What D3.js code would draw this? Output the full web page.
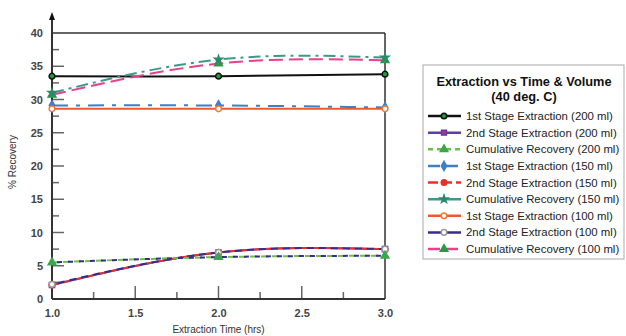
<!DOCTYPE html>
<html>
<head>
<meta charset="utf-8">
<script src="https://cdn.jsdelivr.net/npm/d3@7"></script>
<style>
  body { margin: 0; background: #fff; }
  text { font-family: "Liberation Sans", Arial, sans-serif; }
</style>
</head>
<body>
<svg width="626" height="336"></svg>
<script>
const svg = d3.select("svg");

const hours = [1.0, 2.0, 3.0];
const xTicks = [1.0, 1.5, 2.0, 2.5, 3.0];
const xMinor = [1.25, 1.75, 2.25, 2.75];
const yTicks = [0, 5, 10, 15, 20, 25, 30, 35, 40];
const yMinor = [2.5, 7.5, 12.5, 17.5, 22.5, 27.5, 32.5, 37.5];

const first200 = [33.5, 33.5, 33.8];
const second200 = [2.1, 7.0, 7.5];
const cum200 = [5.5, 6.3, 6.5];
const first150 = [29.1, 29.1, 28.8];
const second150 = [2.1, 7.0, 7.5];
const cum150 = [31.0, 36.0, 36.3];
const first100 = [28.6, 28.6, 28.6];
const second100 = [2.2, 7.0, 7.5];
const cum100 = [30.7, 35.4, 35.9];

const seriesNames = [
  "1st Stage Extraction (200 ml)",
  "2nd Stage Extraction (200 ml)",
  "Cumulative Recovery (200 ml)",
  "1st Stage Extraction (150 ml)",
  "2nd Stage Extraction (150 ml)",
  "Cumulative Recovery (150 ml)",
  "1st Stage Extraction (100 ml)",
  "2nd Stage Extraction (100 ml)",
  "Cumulative Recovery (100 ml)"
];
const seriesValues = [first200, second200, cum200, first150, second150, cum150, first100, second100, cum100];

// styles for each series (line colour, dash, marker)
const styles = [
  { color: "#111", dash: null, sym: d3.symbolCircle, mfill: "#1f9a3c", mstroke: "#111" },
  { color: "#5a3fa8", dash: null, sym: d3.symbolSquare, mfill: "#c0306a", mstroke: "#5a3fa8" },
  { color: "#6cc04a", dash: "7,4", sym: d3.symbolTriangle, mfill: "#3aa84a", mstroke: "#3aa84a" },
  { color: "#3d7fc8", dash: "16,8,4,8", sym: d3.symbolDiamond, mfill: "#3d7fc8", mstroke: "#3d7fc8" },
  { color: "#e8302a", dash: "7,5", sym: d3.symbolCircle, mfill: "#e8302a", mstroke: "#e8302a" },
  { color: "#3a9a8a", dash: "12,5,3,5", sym: d3.symbolStar, mfill: "#2a8a6a", mstroke: "#2a8a6a" },
  { color: "#f05a28", dash: null, sym: d3.symbolCircle, mfill: "#fff", mstroke: "#f07a30" },
  { color: "#3a2a8a", dash: "7,5", sym: d3.symbolCircle, mfill: "#fff", mstroke: "#999" },
  { color: "#e8408c", dash: "14,6", sym: d3.symbolTriangle, mfill: "#2a9a4a", mstroke: "#2a9a4a" }
];
const legendDash = [null, null, "5,4", "12,6", "10,4", null, null, null, "12,6"];

const x = d3.scaleLinear().domain([1, 3]).range([52, 385]);
const y = d3.scaleLinear().domain([0, 40]).range([299, 33]);

const line = d3.line()
  .x(d => x(d[0]))
  .y(d => y(d[1]))
  .curve(d3.curveNatural);

// frame top and right
svg.append("line").attr("x1", x(1)).attr("x2", x(3)).attr("y1", y(40)).attr("y2", y(40))
  .attr("stroke", "#333").attr("stroke-width", 1.5);
svg.append("line").attr("x1", x(3)).attr("x2", x(3)).attr("y1", y(40)).attr("y2", y(0))
  .attr("stroke", "#333").attr("stroke-width", 1.5);

// axes, labels only (ticks drawn inward below)
const yAxis = d3.axisLeft(y).tickValues(yTicks).tickSize(0).tickPadding(9).tickFormat(d3.format("d"));
const gy = svg.append("g").attr("transform", `translate(${x(1)},0)`).call(yAxis);
gy.select(".domain").remove();
gy.selectAll("text").attr("font-size", 11).attr("fill", "#444").attr("font-weight", "bold");

const xAxis = d3.axisBottom(x).tickValues(xTicks).tickSize(0).tickPadding(10).tickFormat(d3.format(".1f"));
const gx = svg.append("g").attr("transform", `translate(0,${y(0)})`).call(xAxis);
gx.select(".domain").remove();
gx.selectAll("text").attr("font-size", 11).attr("fill", "#444").attr("font-weight", "bold");

// inward ticks
const tickG = svg.append("g").attr("stroke", "#666").attr("stroke-width", 1.5);
tickG.selectAll("line.ymaj").data(yTicks).join("line").attr("class", "ymaj")
  .attr("x1", x(1)).attr("x2", x(1) + 12).attr("y1", d => y(d)).attr("y2", d => y(d));
tickG.selectAll("line.ymin").data(yMinor).join("line").attr("class", "ymin")
  .attr("x1", x(1)).attr("x2", x(1) + 7).attr("y1", d => y(d)).attr("y2", d => y(d));
tickG.selectAll("line.xmaj").data(xTicks).join("line").attr("class", "xmaj")
  .attr("x1", d => x(d)).attr("x2", d => x(d)).attr("y1", y(0)).attr("y2", y(0) - 13);
tickG.selectAll("line.xmin").data(xMinor).join("line").attr("class", "xmin")
  .attr("x1", d => x(d)).attr("x2", d => x(d)).attr("y1", y(0)).attr("y2", y(0) - 7);

// axis lines
svg.append("line").attr("x1", x(1)).attr("x2", x(3)).attr("y1", y(0)).attr("y2", y(0))
  .attr("stroke", "#333").attr("stroke-width", 2);
svg.append("line").attr("x1", x(1)).attr("x2", x(1)).attr("y1", y(0)).attr("y2", 18)
  .attr("stroke", "#333").attr("stroke-width", 2);
svg.append("path").attr("d", `M${x(1)},12 L${x(1) - 3},20 L${x(1) + 3},20 Z`).attr("fill", "#111");

// axis titles
svg.append("text").attr("transform", `translate(16,${y(20) - 4}) rotate(-90)`)
  .attr("text-anchor", "middle").attr("font-size", 10).attr("fill", "#333").text("% Recovery");
svg.append("text").attr("x", x(2)).attr("y", 333)
  .attr("text-anchor", "middle").attr("font-size", 10).attr("fill", "#333").text("Extraction Time (hrs)");

// series lines
const drawOrder = [0, 3, 6, 5, 8, 1, 4, 7, 2];
drawOrder.forEach(i => {
  const pts = hours.map((h, j) => [h, seriesValues[i][j]]);
  const s = styles[i];
  svg.append("path").datum(pts)
    .attr("d", line)
    .attr("fill", "none")
    .attr("stroke", s.color)
    .attr("stroke-width", 2)
    .attr("stroke-dasharray", s.dash)
    .attr("stroke-dashoffset", i === 7 ? 6 : 0);
  if (i === 2) {
    // navy dashes interleaved on the cumulative 200 line
    svg.append("path").datum(pts)
      .attr("d", line).attr("fill", "none").attr("stroke", "#3a2a8a")
      .attr("stroke-width", 2).attr("stroke-dasharray", "5,6").attr("stroke-dashoffset", 6);
  }
});

// markers
const markerOrder = [1, 4, 7, 2, 3, 6, 0, 8, 5];
markerOrder.forEach(i => {
  const s = styles[i];
  svg.selectAll(null).data(hours.map((h, j) => [h, seriesValues[i][j]])).enter()
    .append("path")
    .attr("transform", d => `translate(${x(d[0])},${y(d[1])})`)
    .attr("d", d3.symbol().type(s.sym).size(s.sym === d3.symbolStar ? 18 : 26))
    .attr("fill", s.mfill)
    .attr("stroke", s.mstroke)
    .attr("stroke-width", 1.5);
});

// legend
const lg = svg.append("g");
lg.append("rect").attr("x", 423).attr("y", 65).attr("width", 201).attr("height", 194)
  .attr("fill", "#fff").attr("stroke", "#aaa").attr("stroke-width", 1);
lg.append("text").attr("x", 524).attr("y", 86).attr("text-anchor", "middle")
  .attr("font-size", 12.8).attr("font-weight", "bold").attr("fill", "#111").text("Extraction vs Time & Volume");
lg.append("text").attr("x", 524).attr("y", 101).attr("text-anchor", "middle")
  .attr("font-size", 12.8).attr("font-weight", "bold").attr("fill", "#111").text("(40 deg. C)");

const ly = d3.scalePoint().domain(seriesNames).range([116, 249]);
const items = lg.selectAll(".item").data(seriesNames).enter().append("g")
  .attr("transform", d => `translate(0,${ly(d)})`);
items.append("line").attr("x1", 428).attr("x2", 461).attr("y1", 0).attr("y2", 0)
  .attr("stroke", (d, i) => styles[i].color).attr("stroke-width", 2.5)
  .attr("stroke-dasharray", (d, i) => legendDash[i]);
items.append("path").attr("transform", "translate(444,0)")
  .attr("d", (d, i) => d3.symbol().type(styles[i].sym).size(styles[i].sym === d3.symbolStar ? 18 : 24)())
  .attr("fill", (d, i) => styles[i].mfill)
  .attr("stroke", (d, i) => styles[i].mstroke).attr("stroke-width", 1.5);
items.append("text").attr("x", 466).attr("y", 0).attr("dy", "0.35em")
  .attr("font-size", 11.4).attr("fill", "#222").text(d => d);
</script>
</body>
</html>
